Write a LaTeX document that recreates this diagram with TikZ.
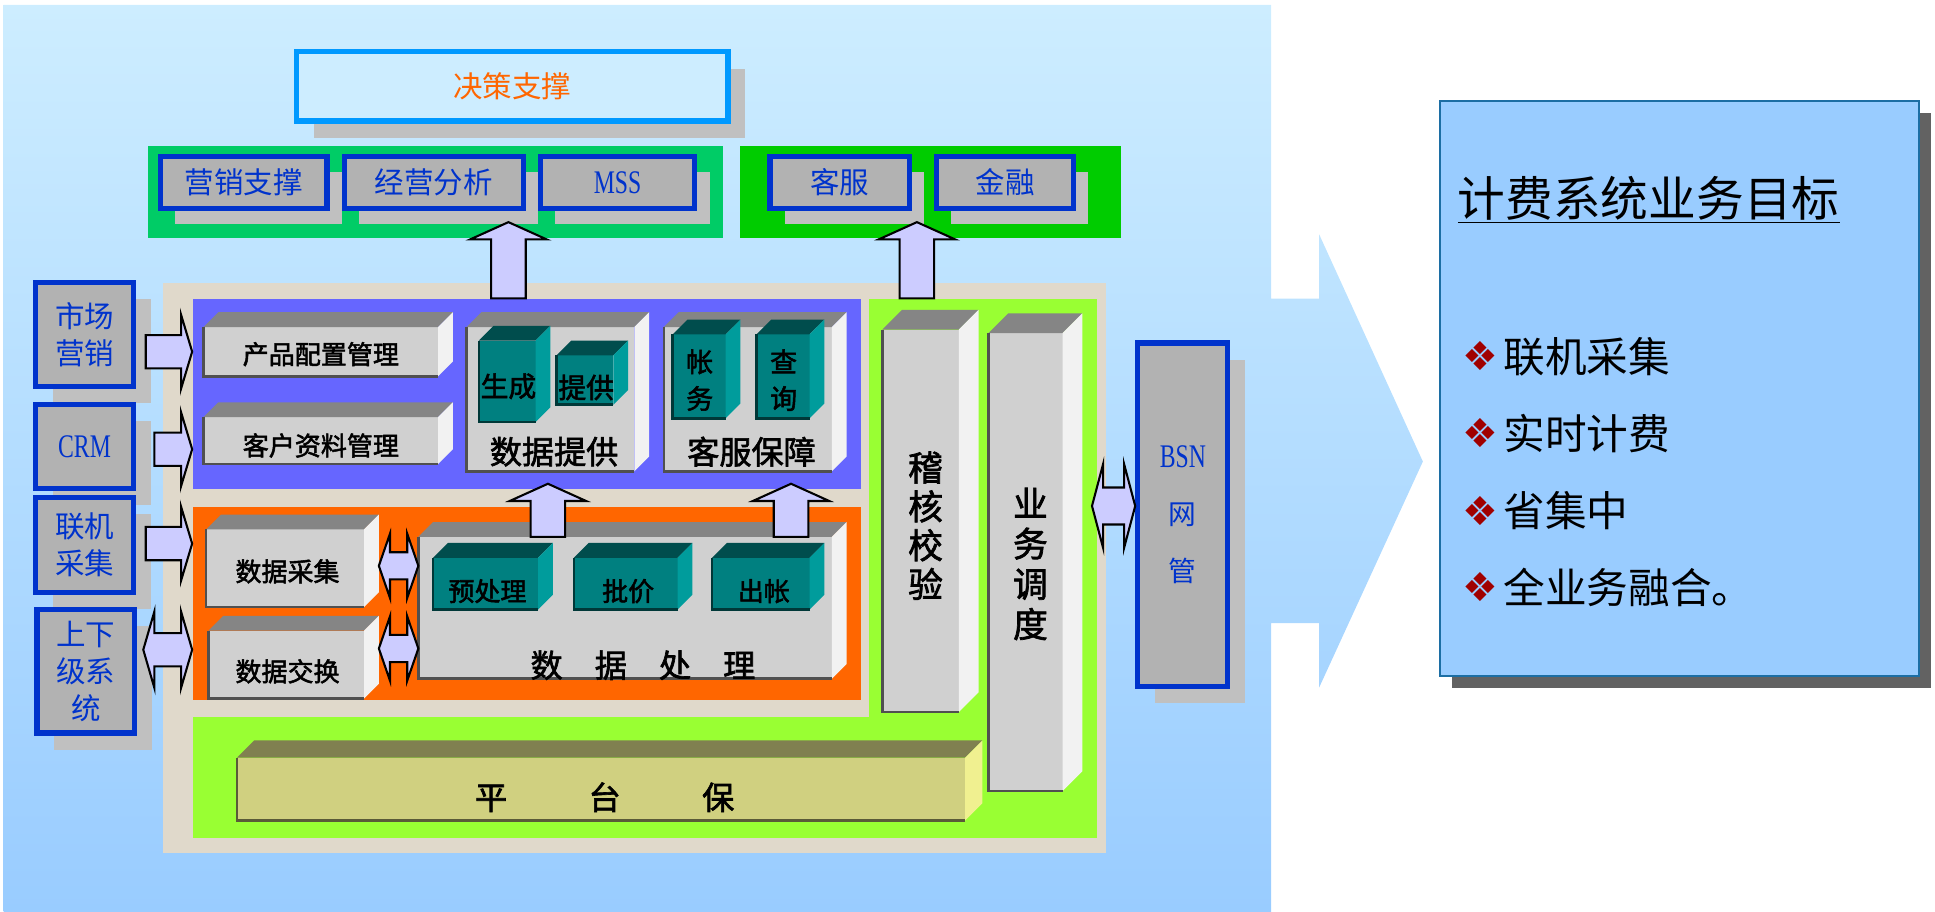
\documentclass[tikz,border=0pt]{standalone}
\usepackage{fontspec}
\setmainfont{Noto Sans CJK SC}
\newfontfamily\heavy[FakeBold=2]{Noto Sans CJK SC}
\newfontfamily\narrow[FakeStretch=0.72]{Liberation Serif}
\newfontfamily\dings{DejaVu Sans}
\usetikzlibrary{calc,fit,shadows}
\definecolor{bgtop}{HTML}{CDEDFF}
\definecolor{bgbottom}{HTML}{99CCFF}
\definecolor{goalblue}{HTML}{99CCFF}
\definecolor{goalline}{HTML}{1C6EA4}
\definecolor{darkshadow}{HTML}{626262}
\definecolor{lightshadow}{HTML}{C0C0C0}
\definecolor{boxgrey}{HTML}{B2B2B2}
\definecolor{labelblue}{HTML}{0033CC}
\definecolor{skyline}{HTML}{0099FF}
\definecolor{fireorange}{HTML}{FF6600}
\definecolor{mint}{HTML}{00CC66}
\definecolor{leaf}{HTML}{00CC00}
\definecolor{panellime}{HTML}{99FF33}
\definecolor{panelviolet}{HTML}{6666FF}
\definecolor{sand}{HTML}{E0D9CB}
\definecolor{lavender}{HTML}{CCCCFF}
\definecolor{bulletred}{HTML}{A00000}
\definecolor{greyfront}{HTML}{D0D0D0}
\definecolor{greytop}{HTML}{858585}
\definecolor{greyside}{HTML}{F2F2F2}
\definecolor{greyedge}{HTML}{505050}
\definecolor{tealfront}{HTML}{008080}
\definecolor{tealtop}{HTML}{004D4D}
\definecolor{tealside}{HTML}{009C9C}
\definecolor{tealedge}{HTML}{003838}
\definecolor{olivefront}{HTML}{D0D080}
\definecolor{olivetop}{HTML}{808050}
\definecolor{oliveside}{HTML}{F0F090}
\definecolor{oliveedge}{HTML}{5A5A38}
\tikzstyle{goal}=[draw=goalline, line width=1.2pt, fill=goalblue, inner sep=0pt, drop shadow={shadow xshift=7pt, shadow yshift=-7pt, fill=darkshadow, opacity=1}]
\tikzstyle{goalitem}=[anchor=west, inner sep=0pt, font=\fontsize{24}{28}\selectfont]
\tikzstyle{topbox}=[draw=skyline, line width=3pt, fill=bgtop, inner sep=0pt, drop shadow={shadow xshift=10pt, shadow yshift=-10pt, fill=lightshadow, opacity=1}]
\tikzstyle{btn}=[draw=labelblue, line width=3pt, fill=boxgrey, inner sep=0pt, drop shadow={shadow xshift=8.5pt, shadow yshift=-9pt, fill=lightshadow, opacity=1}]
\tikzstyle{sidebox}=[draw=labelblue, line width=3pt, fill=boxgrey, inner sep=0pt, drop shadow={shadow xshift=10pt, shadow yshift=-9.5pt, fill=lightshadow, opacity=1}]
\tikzstyle{bluetext}=[text=labelblue, inner sep=0pt, align=center, font=\fontsize{17}{21.5}\selectfont]
\tikzstyle{panel}=[draw=none, inner sep=0pt]
\tikzstyle{cube}=[draw=none, inner sep=0pt, outer sep=0pt]
\tikzstyle{ink}=[text=black, inner sep=0pt, align=center, font=\heavy\fontsize{15}{18}\selectfont]
\tikzstyle{bigink}=[text=black, inner sep=0pt, align=center, font=\heavy\fontsize{18.5}{22}\selectfont]
\tikzstyle{fatarrow}=[draw=black, line width=1.2pt, fill=lavender, line join=miter]
\newcommand{\slab}[5][12]{%
\node[cube, fill=#5front, fit={(#3) (#4)}] (#2) {};
\fill[#5top] (#2.north west) -- ++(#1,-#1) -- ($(#2.north east)+(#1,-#1)$) -- (#2.north east) -- cycle;
\fill[#5side] (#2.north east) -- ++(#1,-#1) -- ($(#2.south east)+(#1,-#1)$) -- (#2.south east) -- cycle;
\draw[#5edge, line width=1.5pt] (#2.north west) -- (#2.south west) -- (#2.south east);}
\newcommand{\fatup}[2]{\draw[fatarrow] ($(#1)+(-14,0)$) -- ($(#2)+(-14,14)$) -- ($(#2)+(-31,14)$) -- (#2) -- ($(#2)+(31,14)$) -- ($(#2)+(14,14)$) -- ($(#1)+(14,0)$) -- cycle;}
\newcommand{\fatright}[2]{\draw[fatarrow] ($(#1)+(0,-13.5)$) -- ($(#2)+(-9,-13.5)$) -- ($(#2)+(-9,-30)$) -- (#2) -- ($(#2)+(-9,30)$) -- ($(#2)+(-9,13.5)$) -- ($(#1)+(0,13.5)$) -- cycle;}
\newcommand{\fatboth}[4]{\draw[fatarrow] (#1) -- ($(#1)+(9,-#4)$) -- ($(#1)+(9,-#3)$) -- ($(#2)+(-9,-#3)$) -- ($(#2)+(-9,-#4)$) -- (#2) -- ($(#2)+(-9,#4)$) -- ($(#2)+(-9,#3)$) -- ($(#1)+(9,#3)$) -- ($(#1)+(9,#4)$) -- cycle;}
\newcommand{\bul}{{\dings\fontsize{23}{24}\selectfont\color{bulletred}\raisebox{1pt}{❖}}\hspace{3pt}}

\begin{document}
\begin{tikzpicture}[x=0.025cm, y=-0.025cm]
\useasboundingbox (0,0) rectangle (1568,739);
\shade[top color=bgtop, bottom color=bgbottom] (3,4) -- (1030,4) -- (1030,242) -- (1069,242) -- (1069,190) -- (1153,374) -- (1069,557) -- (1069,505) -- (1030,505) -- (1030,739) -- (3,739) -- cycle;

\node[goal, fit={(1167,82) (1555,548)}] (goal) {};
\node[goalitem, font=\fontsize{27.5}{30}\selectfont] (goaltitle) at (1181,162) {\underline{计费系统业务目标}};
\node[goalitem] (g1) at (1185,289) {\bul 联机采集};
\node[goalitem] (g2) at (1185,351) {\bul 实时计费};
\node[goalitem] (g3) at (1185,414) {\bul 省集中};
\node[goalitem] (g4) at (1185,476) {\bul 全业务融合。};

\node[topbox, fit={(240,42) (590,98)}, label={[bluetext, text=fireorange]center:决策支撑}] (jczc) {};
\node[panel, fill=mint, fit={(120,118) (586,193)}] (gb1) {};
\node[panel, fill=leaf, fit={(600,118) (908,193)}] (gb2) {};
\node[btn, fit={(130,127) (265,169)}, label={[bluetext]center:营销支撑}] (yxzc) {};
\node[btn, fit={(279,127) (424,169)}, label={[bluetext]center:经营分析}] (jyfx) {};
\node[btn, fit={(438,127) (563,169)}, label={[bluetext, font=\narrow\fontsize{19}{20}\selectfont]center:MSS}] (mss) {};
\node[btn, fit={(624,127) (737,169)}, label={[bluetext]center:客服}] (kf) {};
\node[btn, fit={(759,127) (870,169)}, label={[bluetext]center:金融}] (jr) {};

\node[panel, fill=sand, fit={(132,229) (896,691)}] (base) {};
\node[panel, fill=panelviolet, fit={(156,242) (698,396)}] (mid) {};
\node[panel, fill=fireorange, fit={(156,411) (698,567)}] (low) {};
\node[panel, fill=panellime, fit={(704,242) (889,679)}] (gv) {};
\node[panel, fill=panellime, fit={(156,581) (889,679)}] (gh) {};

\node[sidebox, fit={(29,229) (108,313)}, label={[bluetext]center:{市场\\营销}}] (mkt) {};
\node[sidebox, fit={(29,328) (108,396)}, label={[bluetext, font=\narrow\fontsize{19}{20}\selectfont]center:CRM}] (crm) {};
\node[sidebox, fit={(29,403) (108,480)}, label={[bluetext]center:{联机\\采集}}] (lj) {};
\node[sidebox, fit={(30,494) (109,594)}, label={[bluetext]center:{上下\\级系\\统}}] (sxj) {};
\node[sidebox, fit={(922,278) (995,556)}, label={[bluetext, font=\fontsize{16}{33}\selectfont]center:{{\narrow\fontsize{19}{33}\selectfont BSN}\\网\\管}}] (bsn) {};

\slab{cp}{165,265}{355,305}{grey}
\node[ink] (cp-t) at (260,287) {产品配置管理};
\slab{kh}{165,338}{355,376}{grey}
\node[ink] (kh-t) at (260,361) {客户资料管理};
\slab{sjtg}{378,265}{514,382}{grey}
\slab{scb}{388,276}{434,342}{teal}
\node[ink, font=\heavy\fontsize{16}{18}\selectfont] (scb-t) at (412,313) {生成};
\slab{tgb}{451,288}{497,328}{teal}
\node[ink, font=\heavy\fontsize{16}{18}\selectfont] (tgb-t) at (475,314) {提供};
\node[bigink] (sjtg-t) at (449,366) {数据提供};
\slab{kfbz}{538,265}{674,382}{grey}
\slab{zw}{545,271}{588,339}{teal}
\node[ink, font=\heavy\fontsize{15.5}{21.2}\selectfont] (zw-t) at (567,308) {帐\\务};
\slab{cx}{613,271}{656,339}{teal}
\node[ink, font=\heavy\fontsize{15.5}{21.2}\selectfont] (cx-t) at (635,308) {查\\询};
\node[bigink] (kfbz-t) at (609,366) {客服保障};

\slab{sjcj}{167,429}{295,492}{grey}
\node[ink] (sjcj-t) at (233,463) {数据采集};
\slab{sjjh}{169,511}{295,566}{grey}
\node[ink] (sjjh-t) at (233,544) {数据交换};
\slab{sjcl}{339,435}{674,550}{grey}
\slab{ycl}{351,452}{436,494}{teal}
\node[ink] (ycl-t) at (395,479) {预处理};
\slab{pj}{465,452}{549,494}{teal}
\node[ink] (pj-t) at (509,479) {批价};
\slab{cz}{577,452}{656,494}{teal}
\node[ink] (cz-t) at (619,479) {出帐};
\node[bigink] (sjcl-t) at (521,539) {数　据　处　理};

\slab[16]{jhjy}{715,267}{777,577}{grey}
\node[bigink, font=\heavy\fontsize{20}{22.4}\selectfont] (jhjy-t) at (750,426) {稽\\核\\校\\验};
\slab[16]{ywdd}{801,270}{861,641}{grey}
\node[bigink, font=\heavy\fontsize{20}{23.2}\selectfont] (ywdd-t) at (835,457) {业\\务\\调\\度};
\slab[14]{ptb}{192,614}{782,665}{olive}
\node[bigink] (ptb-t) at (490,646) {平\hspace{1.65cm}台\hspace{1.65cm}保};

\coordinate (u1) at (412,180);
\coordinate (u2) at (743,180);
\coordinate (u3) at (444,392);
\coordinate (u4) at (641,392);
\fatup{mid.north -| u1}{u1}
\fatup{gv.north -| u2}{u2}
\fatup{sjcl.north -| u3}{u3}
\fatup{sjcl.north -| u4}{u4}

\coordinate (r1) at ($(mkt.east |- cp)+(8,0)$);
\coordinate (r2) at ($(crm.east)+(15,2)$);
\coordinate (r3) at ($(lj.east)+(8,-1)$);
\fatright{r1}{mid.west |- r1}
\fatright{r2}{mid.west |- r2}
\fatright{r3}{low.west |- r3}

\coordinate (d1) at ($(sjcj.east)+(12,-2)$);
\coordinate (d2) at ($(sjjh.east)+(12,-13)$);
\coordinate (d3) at ($(sxj.east |- d2)+(5,1)$);
\coordinate (d4) at ($(bsn.west)+(-35,-7)$);
\fatboth{d1}{sjcl.west |- d1}{11}{26}
\fatboth{d2}{sjcl.west |- d2}{11}{26}
\fatboth{d3}{low.west |- d3}{13.5}{31}
\fatboth{d4}{bsn.west |- d4}{15}{34}
\end{tikzpicture}
\end{document}
